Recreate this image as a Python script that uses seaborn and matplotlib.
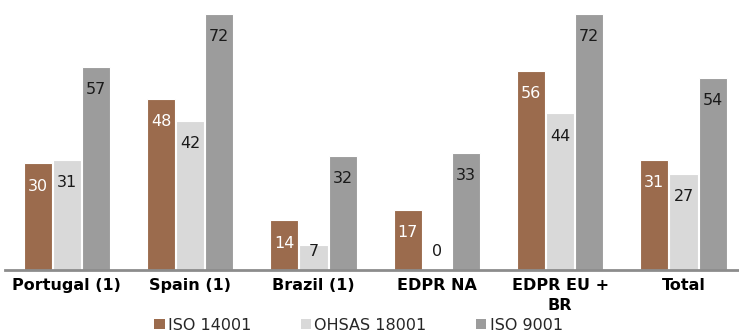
import pandas as pd
import seaborn as sns
import matplotlib.pyplot as plt
from matplotlib.patches import Patch

# Data
categories = ["Portugal (1)", "Spain (1)", "Brazil (1)", "EDPR NA", "EDPR EU +\nBR", "Total"]
iso_14001 = [30, 48, 14, 17, 56, 31]
ohsas_18001 = [31, 42, 7, 0, 44, 27]
iso_9001 = [57, 72, 32, 33, 72, 54]
series_names = ["ISO 14001", "OHSAS 18001", "ISO 9001"]

colors = ["#9B6B4D", "#D9D9D9", "#9C9C9C"]
label_colors = ["white", "#1a1a1a", "#1a1a1a"]

# Long format table for seaborn
df = pd.DataFrame({
    "Category": categories * 3,
    "Series": [series_names[0]] * 6 + [series_names[1]] * 6 + [series_names[2]] * 6,
    "Value": iso_14001 + ohsas_18001 + iso_9001,
})

sns.set_style("white")
plt.rcParams["font.family"] = ["DejaVu Sans"]

fig = plt.figure(figsize=(7.39, 3.33), dpi=100)
ax = fig.add_axes([0.007, 0.189, 0.993, 0.802])

sns.barplot(data=df, x="Category", y="Value", hue="Series", palette=colors,
            saturation=1, width=0.71, gap=0.04, edgecolor="white", linewidth=0.8,
            ax=ax, legend=False)

# Value labels inside bars
for container, values, lc in zip(ax.containers, [iso_14001, ohsas_18001, iso_9001], label_colors):
    for bar, v in zip(container, values):
        x = bar.get_x() + bar.get_width() / 2
        y = max(v - 6.4, 5.3)
        ax.text(x, y, str(v), ha="center", va="center", fontsize=11.5, color=lc)

ax.set_xlim(-0.5, 5.45)
ax.set_ylim(0, 75)
ax.set_yticks([])
ax.set_xlabel("")
ax.set_ylabel("")
ax.tick_params(axis="x", length=0, pad=6)
for lab in ax.get_xticklabels():
    lab.set_fontweight("bold")
    lab.set_fontsize(11.5)
    lab.set_color("black")
    lab.set_linespacing(1.35)

for side in ["top", "left", "right"]:
    ax.spines[side].set_visible(False)
ax.spines["bottom"].set_color("#8C8C8C")
ax.spines["bottom"].set_linewidth(2)

# Legend at the bottom
handles = [Patch(facecolor=c, edgecolor="none") for c in colors]
fig.legend(handles, series_names, loc="center", bbox_to_anchor=(0.485, 0.024), ncol=3,
           frameon=False, fontsize=11.5, handlelength=0.65, handleheight=0.65,
           handletextpad=0.2, columnspacing=3.1)

plt.savefig("out.png", dpi=100)
